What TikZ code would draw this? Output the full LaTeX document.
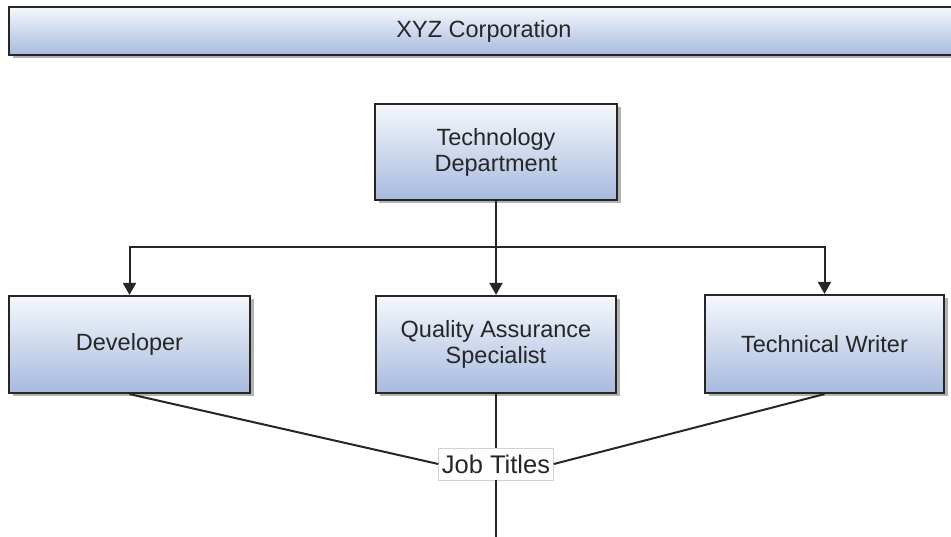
\documentclass[tikz,border=0pt]{standalone}
\usepackage{fontspec}
\setmainfont{Liberation Sans}
\usetikzlibrary{shadows,arrows.meta}
\definecolor{boxtop}{HTML}{F6F8FC}
\definecolor{boxbot}{HTML}{A7BADE}
\definecolor{edge}{HTML}{262626}
\definecolor{txt}{HTML}{262626}
\tikzset{
  orgbox/.style={draw=edge, line width=2.2pt, top color=boxtop, bottom color=boxbot,
    inner sep=0pt, align=center, text=txt, font=\fontsize{23.5}{26}\selectfont,
    drop shadow={shadow xshift=3.5pt, shadow yshift=-3.5pt, fill=black, opacity=0.3}},
  conn/.style={draw=edge, line width=2pt},
  arr/.style={conn, -{Triangle[length=12pt,width=13pt]}},
  lbl/.style={fill=white, draw=gray!35, line width=0.6pt, inner sep=1pt, text=txt,
    font=\fontsize{25.5}{28}\selectfont, minimum width=115pt, minimum height=32pt}
}
\begin{document}
\begin{tikzpicture}[x=1pt,y=-1pt]
\useasboundingbox (0,0) rectangle (951,537);
\clip (0,0) rectangle (951,537);
\node[orgbox, minimum width=960pt, minimum height=48pt] (corp) at (489,31) {};
\node[text=txt, font=\fontsize{23.5}{26}\selectfont] (corptext) at (484,31) {XYZ Corporation};
\node[orgbox, minimum width=242pt, minimum height=96pt] (tech) at (496,152) {Technology\\Department};
\node[orgbox, minimum width=241pt, minimum height=97pt] (dev) at (129.5,344.5) {Developer};
\node[orgbox, minimum width=240pt, minimum height=97pt] (qa) at (496,344.5) {Quality Assurance\\Specialist};
\node[orgbox, minimum width=239pt, minimum height=98pt] (tw) at (824.5,344) {Technical Writer};
\coordinate (hub) at (496,247);
\coordinate (bottom) at (496,540);
\draw[conn] (tech.south) -- (hub);
\draw[arr] (hub) -| (dev.north);
\draw[arr] (hub) -- (qa.north);
\draw[arr] (hub) -| (tw.north);
\node[lbl] (jt) at (496,464) {Job Titles};
\draw[conn] (dev.south) -- (jt.west);
\draw[conn] (tw.south) -- (jt.east);
\draw[conn] (qa.south) -- (jt.north);
\draw[conn] (jt.south) -- (bottom);
\end{tikzpicture}
\end{document}
